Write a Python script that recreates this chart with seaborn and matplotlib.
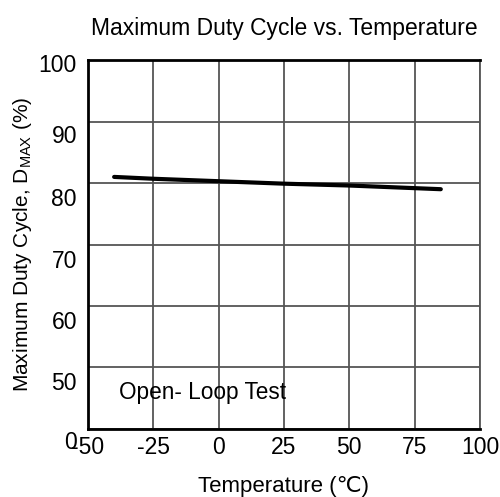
import matplotlib
matplotlib.use("Agg")
import matplotlib.pyplot as plt
import matplotlib.transforms as mtransforms
import seaborn as sns
import pandas as pd

# values
temperature = [-40, -25, 0, 25, 50, 85]
duty_cycle = [81.0, 80.7, 80.3, 79.9, 79.6, 79.0]
x_ticks = [-50, -25, 0, 25, 50, 75, 100]
y_ticks = [40, 50, 60, 70, 80, 90, 100]
y_tick_labels = ["0", "50", "60", "70", "80", "90", "100"]

sns.set_style("white")
plt.rcParams['font.family'] = ['Liberation Sans', 'DejaVu Sans']
plt.rcParams['axes.unicode_minus'] = False
plt.rcParams['mathtext.fontset'] = 'custom'
plt.rcParams['mathtext.rm'] = 'Liberation Sans'
plt.rcParams['text.color'] = 'black'
plt.rcParams['axes.labelcolor'] = 'black'
plt.rcParams['xtick.color'] = 'black'
plt.rcParams['ytick.color'] = 'black'

df = pd.DataFrame({'Temperature': temperature, 'Duty': duty_cycle})

fig = plt.figure(figsize=(5, 4.97), dpi=100)
ax = fig.add_axes([0.176, 0.137, 0.784, 0.742])

sns.lineplot(data=df, x='Temperature', y='Duty', color='black', linewidth=3, ax=ax)

ax.set_xlim(-50, 100)
ax.set_ylim(40, 100)
ax.set_xticks(x_ticks)
ax.set_yticks(y_ticks)
ax.set_yticklabels(y_tick_labels)
ax.tick_params(axis='both', labelsize=16.5, length=0)
ax.tick_params(axis='y', pad=8)
ax.tick_params(axis='x', pad=5)
ax.grid(True, color='#555555', linewidth=1.3)
ax.set_axisbelow(True)

# the y labels in the reference sit a bit below their grid lines
shifts = [11, 14, 14, 14, 14, 12, 3]
for lab, s in zip(ax.get_yticklabels(), shifts):
    lab.set_transform(lab.get_transform() +
                      mtransforms.ScaledTranslation(0, -s / 100, fig.dpi_scale_trans))

for side in ['left', 'bottom', 'top']:
    ax.spines[side].set_color('black')
    ax.spines[side].set_linewidth(2)
ax.spines['right'].set_color('#555555')
ax.spines['right'].set_linewidth(1.3)

ax.set_xlabel('Temperature (\u2103)', fontsize=16, labelpad=12)
ax.set_ylabel('Maximum Duty Cycle, D$_{\\mathregular{MAX}}$ (%)', fontsize=15, labelpad=3)
ax.set_title('Maximum Duty Cycle vs. Temperature', fontsize=16.5, pad=18)

ax.text(-38, 45.9, 'Open- Loop Test', fontsize=16.3, va='center', ha='left')

fig.savefig('out.png', dpi=100)
